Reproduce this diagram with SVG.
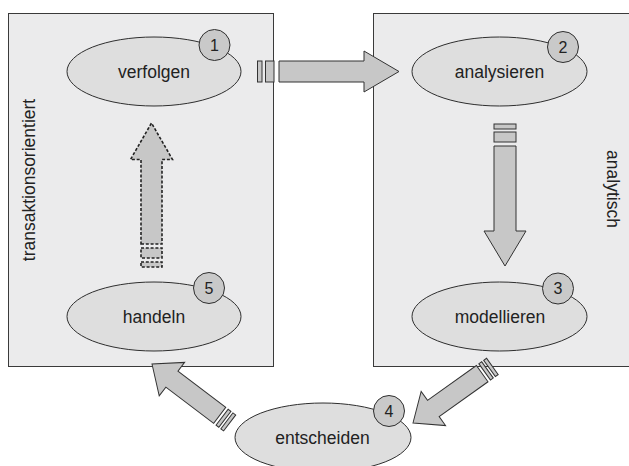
<svg xmlns="http://www.w3.org/2000/svg" width="629" height="466" viewBox="0 0 629 466">
  <style>
    .panel { fill: #ebebec; stroke: #3a3a3a; stroke-width: 1; }
    .node { fill: #dedede; stroke: #2e2e2e; stroke-width: 1; }
    .num { fill: #c9c9c9; stroke: #2e2e2e; stroke-width: 1; }
    .arrow { fill: #c7c7c7; stroke: #333333; stroke-width: 1; stroke-linejoin: miter; }
    .dashed { fill: #c7c7c7; stroke: #222222; stroke-width: 1.6; stroke-dasharray: 3 1.8; }
    text { font-family: "Liberation Sans", Arial, sans-serif; fill: #222222; }
    .label { font-size: 17.5px; text-anchor: middle; }
    .numtxt { font-size: 16px; text-anchor: middle; }
    .side { font-size: 17.5px; text-anchor: middle; }
  </style>
  <defs>
    <!-- diagonal arrow, tip at origin, pointing along +x -->
    <g id="diagArrow">
      <polygon class="arrow" points="0,0 -25,-21 -25,-10 -85,-10 -85,10 -25,10 -25,21"/>
      <rect class="arrow" x="-91.5" y="-10" width="3.5" height="20"/>
      <rect class="arrow" x="-97.5" y="-10" width="3.5" height="20"/>
    </g>
  </defs>

  <!-- panels -->
  <g id="panel-transaktionsorientiert">
    <rect class="panel" x="8.5" y="13.5" width="265" height="353"/>
    <text class="side" transform="translate(35,180) rotate(-90)">transaktionsorientiert</text>
  </g>
  <g id="panel-analytisch">
    <rect class="panel" x="373.5" y="13.5" width="260" height="353"/>
    <text class="side" transform="translate(607,189) rotate(90)">analytisch</text>
  </g>

  <!-- connectors -->
  <g id="connectors">
    <!-- verfolgen to analysieren -->
    <g id="edge-1-2">
      <rect class="arrow" x="257.5" y="61" width="4.5" height="21"/>
      <rect class="arrow" x="265.5" y="61" width="8.5" height="21"/>
      <polygon class="arrow" points="279,61 364,61 364,51 399,71.5 364,92 364,82 279,82"/>
    </g>
    <!-- analysieren to modellieren -->
    <g id="edge-2-3">
      <rect class="arrow" x="494" y="124" width="22" height="5"/>
      <rect class="arrow" x="494" y="132" width="22" height="10"/>
      <polygon class="arrow" points="494,146 516,146 516,231 526,231 505,266 484,231 494,231"/>
    </g>
    <!-- modellieren to entscheiden -->
    <use id="edge-3-4" href="#diagArrow" transform="translate(413,423) rotate(144.5)"/>
    <!-- entscheiden to handeln -->
    <use id="edge-4-5" href="#diagArrow" transform="translate(152,364) rotate(-142.8)"/>
    <!-- handeln to verfolgen (dashed) -->
    <g id="edge-5-1">
      <rect class="dashed" x="141" y="262" width="21" height="5"/>
      <rect class="dashed" x="141" y="248" width="21" height="10"/>
      <polygon class="dashed" points="141,244 162,244 162,159.5 172.5,159.5 151.5,123 130.5,159.5 141,159.5"/>
    </g>
  </g>

  <!-- nodes -->
  <g id="node-verfolgen">
    <ellipse class="node" cx="154" cy="71.5" rx="87" ry="34.5"/>
    <text class="label" x="154" y="77.5">verfolgen</text>
    <circle class="num" cx="214.5" cy="45" r="15.5"/>
    <text class="numtxt" x="214.5" y="50.7">1</text>
  </g>
  <g id="node-analysieren">
    <ellipse class="node" cx="499.5" cy="71.5" rx="87.5" ry="34.5"/>
    <text class="label" x="499.5" y="78">analysieren</text>
    <circle class="num" cx="563" cy="47" r="15.5"/>
    <text class="numtxt" x="563" y="52.7">2</text>
  </g>
  <g id="node-modellieren">
    <ellipse class="node" cx="499.5" cy="316.5" rx="87.5" ry="34.5"/>
    <text class="label" x="500" y="322.7">modellieren</text>
    <circle class="num" cx="558" cy="288.5" r="15.5"/>
    <text class="numtxt" x="558" y="294.2">3</text>
  </g>
  <g id="node-entscheiden">
    <ellipse class="node" cx="323" cy="437.5" rx="88" ry="34.5"/>
    <text class="label" x="322.5" y="444">entscheiden</text>
    <circle class="num" cx="389" cy="411" r="15.5"/>
    <text class="numtxt" x="389" y="416.7">4</text>
  </g>
  <g id="node-handeln">
    <ellipse class="node" cx="154" cy="316.5" rx="87" ry="34.5"/>
    <text class="label" x="154" y="323">handeln</text>
    <circle class="num" cx="209" cy="288" r="15.5"/>
    <text class="numtxt" x="209" y="293.7">5</text>
  </g>
</svg>
